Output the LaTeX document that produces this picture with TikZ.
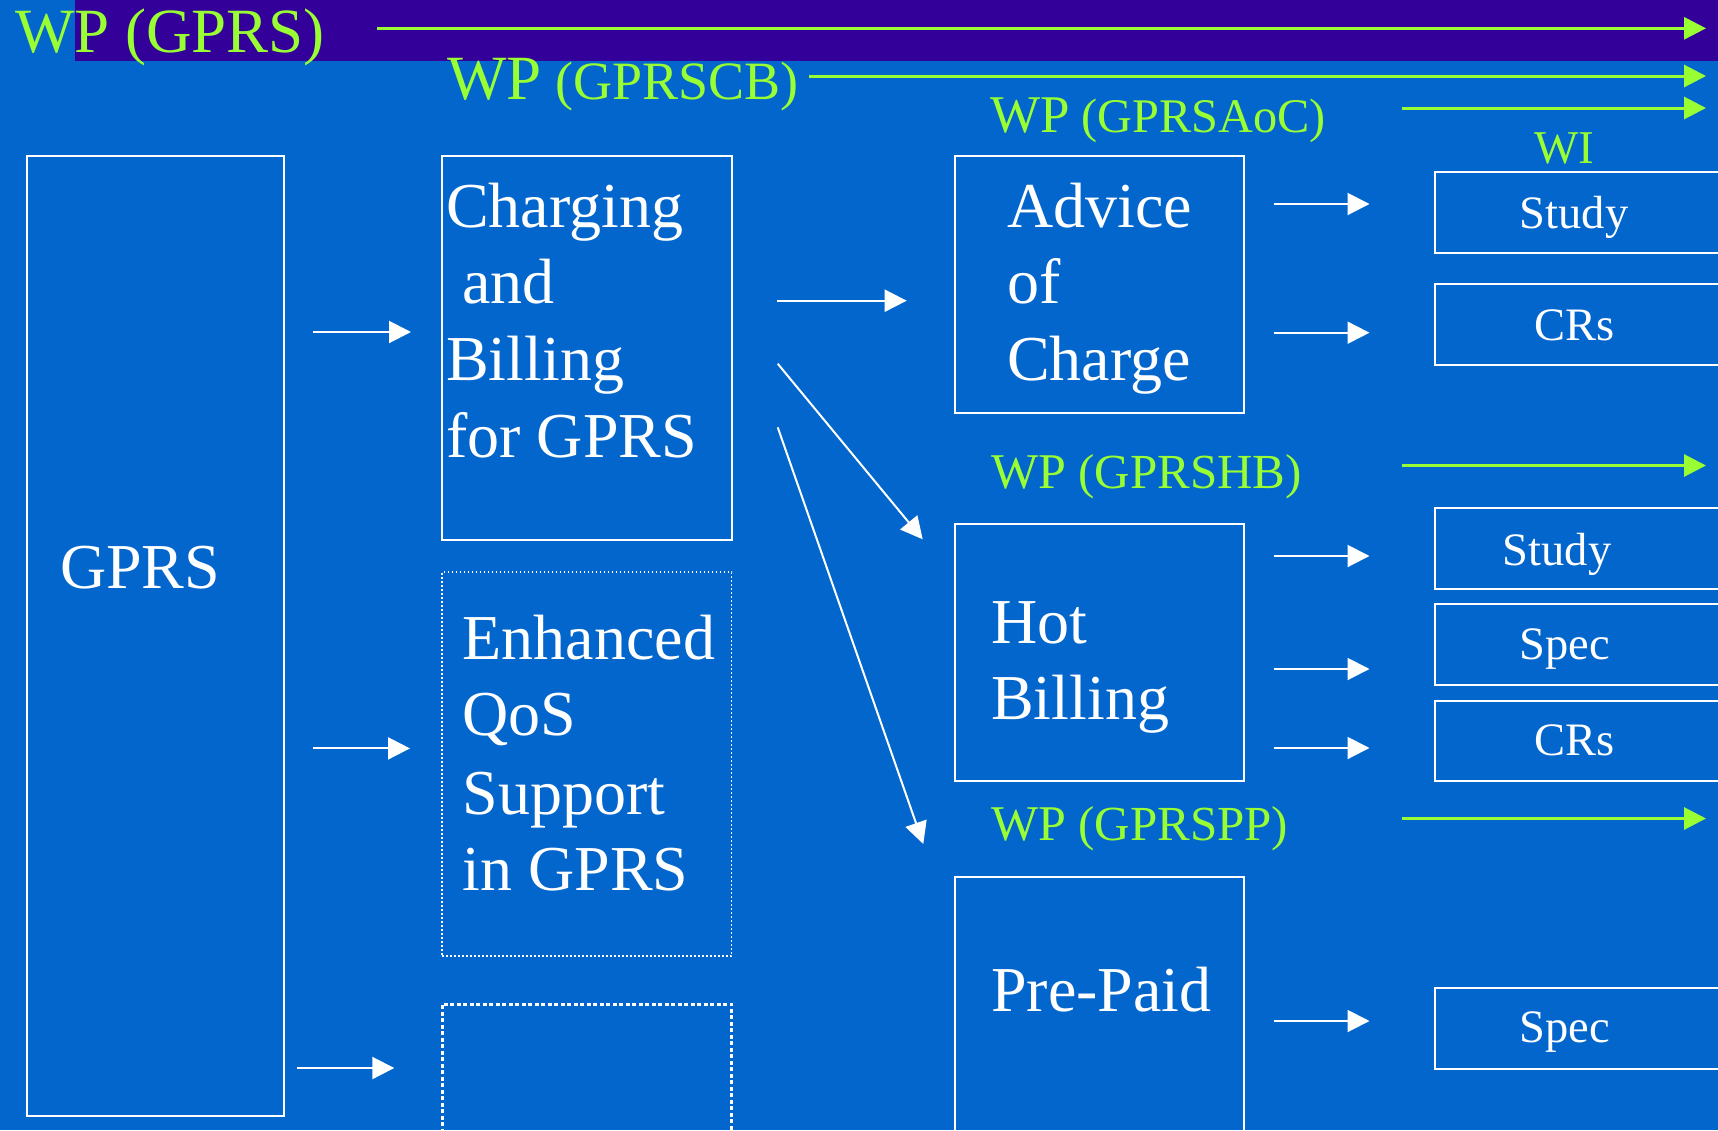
\documentclass[tikz,border=0pt]{standalone}
\usepackage{fontspec}
\setmainfont{Liberation Serif}
\usetikzlibrary{arrows.meta}
\definecolor{bgblue}{RGB}{3,102,204}
\definecolor{bandpurple}{RGB}{51,0,153}
\definecolor{wpgreen}{RGB}{153,255,51}
\tikzset{
  box/.style={draw=white, line width=2pt, inner sep=0pt, outer sep=0pt, anchor=north west},
  thindot/.style={box, line width=1.5pt, dash pattern=on 1.5pt off 2.5pt},
  thickdot/.style={box, line width=3pt, dash pattern=on 4pt off 2.5pt},
  warr/.style={draw=white, line width=2pt, -{Triangle[length=22pt,width=22pt]}},
  garr/.style={draw=wpgreen, line width=3pt, -{Triangle[length=22pt,width=22pt]}},
  big/.style={text=white, font=\fontsize{64}{77}\selectfont, anchor=base west, inner sep=0pt},
  small/.style={text=white, font=\fontsize{46.5}{50}\selectfont, anchor=base, inner sep=0pt},
  wp/.style={text=wpgreen, anchor=base west, inner sep=0pt},
}
\newcommand{\fsz}[1]{\fontsize{#1}{#1}\selectfont}
\begin{document}
\begin{tikzpicture}[x=1pt,y=-1pt]
\useasboundingbox (0,0) rectangle (1718,1130);
\clip (0,0) rectangle (1718,1130);
\fill[bgblue] (0,0) rectangle (1718,1130);
\fill[bandpurple] (75,0) rectangle (1718,61);

% boxes
\node[box, minimum width=256.8pt, minimum height=960.3pt] (gprsbox) at (26.7,155.7) {};
\node[box, minimum width=290pt, minimum height=384.3pt] (cbbox) at (442,155.7) {};
\node[thindot, minimum width=289.5pt, minimum height=384pt] (qosbox) at (442,572) {};
\node[thickdot, minimum width=289.5pt, minimum height=200pt] (emptybox) at (442,1004) {};
\node[box, minimum width=288.5pt, minimum height=257pt] (aocbox) at (955,155.7) {};
\node[box, minimum width=288.5pt, minimum height=257pt] (hbbox) at (955,524) {};
\node[box, minimum width=288.5pt, minimum height=300pt] (ppbox) at (955,876.5) {};
\node[box, minimum width=320pt, minimum height=80.4pt] (study1) at (1435,172.3) {};
\node[box, minimum width=320pt, minimum height=81pt] (crs1) at (1435,284) {};
\node[box, minimum width=320pt, minimum height=81pt] (study2) at (1435,508) {};
\node[box, minimum width=320pt, minimum height=81pt] (spec2) at (1435,604) {};
\node[box, minimum width=320pt, minimum height=80.4pt] (crs2) at (1435,700.6) {};
\node[box, minimum width=320pt, minimum height=81.4pt] (spec3) at (1435,988) {};

% green headings
\node[wp, font=\fsz{63}] (wpgprs) at (15,52) {WP (GPRS)};
\node[wp] (wpcb) at (447,99) {{\fsz{63}WP}{\fsz{54} (GPRSCB)}};
\node[wp] (wpaoc) at (990,132) {{\fsz{53}WP}{\fsz{48.3} (GPRSAoC)}};
\node[wp] (wphb) at (991,488) {{\fsz{50}WP}{\fsz{49} (GPRSHB)}};
\node[wp] (wppp) at (991,840) {{\fsz{50}WP}{\fsz{49} (GPRSPP)}};
\node[text=wpgreen, anchor=base, inner sep=0pt, font=\fsz{47}] (wi) at (1564,163) {WI};

% big texts
\node[big] (gprs) at (60,588) {GPRS};
\node[big] (cb1) at (446,227) {Charging};
\node[big] (cb2) at (446,303) {\ and};
\node[big] (cb3) at (446,380) {Billing};
\node[big] (cb4) at (446,457) {for GPRS};
\node[big] (q1) at (462.5,659.6) {Enhanced};
\node[big] (q2) at (462.5,735.6) {QoS};
\node[big] (q3) at (462.5,814) {Support};
\node[big] (q4) at (462.5,890) {in GPRS};
\node[big] (a1) at (1007,227) {Advice};
\node[big] (a2) at (1007,303) {of};
\node[big] (a3) at (1007,380) {Charge};
\node[big] (h1) at (991,643) {Hot};
\node[big] (h2) at (991,719.5) {Billing};
\node[big] (p1) at (991,1011) {Pre-Paid};

% small texts
\node[small] (t1) at (1574,228) {Study};
\node[small] (t2) at (1575,340) {CRs};
\node[small] (t3) at (1557,565) {Study};
\node[small] (t4) at (1565,659) {Spec};
\node[small] (t5) at (1575,755) {CRs};
\node[small] (t6) at (1565,1042) {Spec};

% arrow end points
\coordinate (g1s) at (377,28.3);   \coordinate (g1e) at (1706,28.3);
\coordinate (g2s) at (809,76);     \coordinate (g2e) at (1706,76);
\coordinate (g3s) at (1402,108);   \coordinate (g3e) at (1706,108);
\coordinate (g4s) at (1402,465.5); \coordinate (g4e) at (1706,465.5);
\coordinate (g5s) at (1402,818.5); \coordinate (g5e) at (1706,818.5);

\coordinate (l1s) at (313,332);    \coordinate (l1e) at (411,332);
\coordinate (l2s) at (313,748.4);  \coordinate (l2e) at (410,748.4);
\coordinate (l3s) at (297,1068);   \coordinate (l3e) at (394.3,1068);
\coordinate (m1s) at (777.3,300.7); \coordinate (m1e) at (906.7,300.7);
\coordinate (m2s) at (777.7,363.7); \coordinate (m2e) at (922.7,539.3);
\coordinate (m3s) at (777.7,427.3); \coordinate (m3e) at (923.3,844);
\coordinate (r1s) at (1274,204);   \coordinate (r1e) at (1369.5,204);
\coordinate (r2s) at (1274,332.7); \coordinate (r2e) at (1369.5,332.7);
\coordinate (r3s) at (1274,556);   \coordinate (r3e) at (1369.5,556);
\coordinate (r4s) at (1274,669);   \coordinate (r4e) at (1369.5,669);
\coordinate (r5s) at (1274,748);   \coordinate (r5e) at (1369.5,748);
\coordinate (r6s) at (1274,1021);  \coordinate (r6e) at (1369.5,1021);

\foreach \a in {g1,g2,g3,g4,g5} {\draw[garr] (\a s) -- (\a e);}
\foreach \a in {l1,l2,l3,m1,m2,m3,r1,r2,r3,r4,r5,r6} {\draw[warr] (\a s) -- (\a e);}
\end{tikzpicture}
\end{document}
